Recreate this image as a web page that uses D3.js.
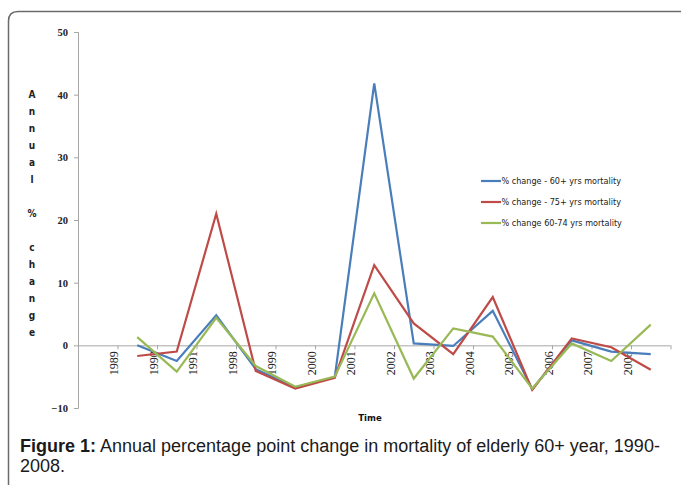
<!DOCTYPE html>
<html>
<head>
<meta charset="utf-8">
<script src="https://cdn.jsdelivr.net/npm/d3@7"></script>
<style>
  body { margin: 0; background: #fff; }
  svg { display: block; }
</style>
</head>
<body>
<div id="viz"></div>
<script>
var years = ["1989", "1990", "1991", "1998", "1999", "2000", "2001", "2002", "2003", "2004", "2005", "2006", "2007", "2008"];
var change60 = [0, -2.5, 4.8, -3.8, -6.7, -5.1, 41.8, 0.3, -0.1, 5.5, -7.0, 0.8, -1.0, -1.4];
var change75 = [-1.7, -1.0, 21.0, -4.1, -6.9, -5.2, 12.8, 3.5, -1.4, 7.7, -7.1, 1.1, -0.3, -3.9];
var change6074 = [1.3, -4.2, 4.4, -3.3, -6.6, -5.0, 8.3, -5.3, 2.7, 1.4, -6.9, 0.3, -2.5, 3.3];
var yTicks = [-10, 0, 10, 20, 30, 40, 50];
var seriesNames = ["% change - 60+ yrs mortality", "% change - 75+ yrs mortality", "% change 60-74 yrs mortality"];
var colors = ["#4a7ebb", "#be4b48", "#98b954"];
var yTitle = ["A", "n", "n", "u", "a", "l", "", "%", "", "c", "h", "a", "n", "g", "e"];

var width = 681, height = 485;
var svg = d3.select("#viz").append("svg")
  .attr("width", width)
  .attr("height", height);

// outer frame with rounded top-left corner
svg.append("path")
  .attr("d", "M8.5,490 V21 Q8.5,11.5 18,11.5 H690")
  .attr("fill", "none")
  .attr("stroke", "#6b6b6b")
  .attr("stroke-width", 1.5);

// x positions: 15 slots, labels on ticks, points between them
var x = d3.scaleLinear().domain([0, 15]).range([78, 670.5]);
var y = d3.scaleLinear().domain([-10, 50]).range([408, 32]);

var axisColor = "#a6a6a6";

// y axis
var yAxis = svg.append("g")
  .attr("transform", "translate(78,0)")
  .call(d3.axisLeft(y).tickValues(yTicks).tickSize(4).tickPadding(6));
yAxis.select(".domain").attr("stroke", axisColor);
yAxis.selectAll(".tick line").attr("stroke", axisColor);
yAxis.selectAll(".tick text")
  .attr("fill", "#222")
  .style("font-family", "'Liberation Serif', serif")
  .style("font-size", "10.5px")
  .style("font-weight", "bold");

// x axis at zero
var xAxis = svg.append("g")
  .attr("transform", "translate(0," + y(0) + ")")
  .call(d3.axisBottom(x).tickValues(d3.range(0, 16)).tickSize(4).tickFormat(""));
xAxis.select(".domain").attr("stroke", axisColor).attr("d", "M" + x(0) + ",0.5H" + x(15));
xAxis.selectAll(".tick line").attr("stroke", axisColor);

// year labels, rotated
svg.append("g").selectAll("text")
  .data(years).enter()
  .append("text")
  .attr("transform", function (d, i) {
    return "translate(" + (x(i + 1) + 0.5) + "," + (y(0) + 6) + ") rotate(-90)";
  })
  .attr("text-anchor", "end")
  .style("font-family", "'Liberation Serif', serif")
  .style("font-size", "12px")
  .attr("fill", "#1a1a1a")
  .text(function (d) { return d; });

// lines
var line = d3.line()
  .x(function (d, i) { return x(i + 1.5); })
  .y(function (d) { return y(d); });

[change60, change75, change6074].forEach(function (s, k) {
  svg.append("path")
    .datum(s)
    .attr("fill", "none")
    .attr("stroke", colors[k])
    .attr("stroke-width", 2.2)
    .attr("stroke-linejoin", "miter")
    .attr("d", line);
});

// legend
var legend = svg.append("g").attr("transform", "translate(481,181)");
seriesNames.forEach(function (name, k) {
  var g = legend.append("g").attr("transform", "translate(0," + (k * 21) + ")");
  g.append("line")
    .attr("x1", 0).attr("x2", 20)
    .attr("stroke", colors[k])
    .attr("stroke-width", 2.2);
  g.append("text")
    .attr("x", 20.5)
    .attr("dy", "0.35em")
    .style("font-family", "'DejaVu Sans Condensed', 'DejaVu Sans', sans-serif")
    .style("font-stretch", "condensed")
    .style("font-size", "9px")
    .attr("fill", "#222")
    .text(name);
});

// y axis title, stacked letters
svg.append("g").selectAll("text")
  .data(yTitle).enter()
  .append("text")
  .attr("x", 32)
  .attr("y", function (d, i) { return 98 + i * 17; })
  .attr("text-anchor", "middle")
  .style("font-family", "'DejaVu Sans Condensed', 'DejaVu Sans', sans-serif")
  .style("font-size", "10px")
  .style("font-weight", "bold")
  .attr("fill", "#222")
  .text(function (d) { return d; });

// x axis title
svg.append("text")
  .attr("x", 370)
  .attr("y", 421)
  .attr("text-anchor", "middle")
  .style("font-family", "'DejaVu Sans Condensed', 'DejaVu Sans', sans-serif")
  .style("font-size", "9.5px")
  .style("font-weight", "bold")
  .attr("fill", "#111")
  .text("Time");

// caption
var cap = svg.append("text")
  .attr("x", 20)
  .attr("y", 452)
  .style("font-family", "'Liberation Sans Narrow', 'Arial Narrow', 'Liberation Sans', sans-serif")
  .style("font-size", "18px")
  .attr("fill", "#1a1a1a");
cap.append("tspan").style("font-weight", "bold").text("Figure 1:");
cap.append("tspan").text(" Annual percentage point change in mortality of elderly 60+ year, 1990-");
svg.append("text")
  .attr("x", 20)
  .attr("y", 472)
  .style("font-family", "'Liberation Sans Narrow', 'Arial Narrow', 'Liberation Sans', sans-serif")
  .style("font-size", "18px")
  .attr("fill", "#1a1a1a")
  .text("2008.");
</script>
</body>
</html>
